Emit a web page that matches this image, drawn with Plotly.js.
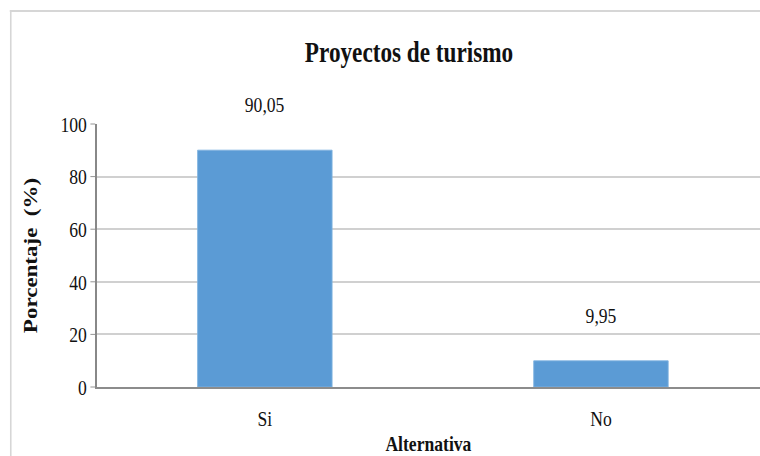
<!DOCTYPE html>
<html>
<head>
<meta charset="utf-8">
<script src="https://cdn.plot.ly/plotly-3.0.1.min.js"></script>
<style>
html,body{margin:0;padding:0;background:#fff;overflow:hidden;}
#frame{width:760px;height:456px;overflow:hidden;position:relative;}
#chart{width:950px;height:456px;transform:scaleX(0.8);transform-origin:0 0;}
</style>
</head>
<body>
<div id="frame"><div id="chart"></div></div>
<script>
// Data
const categories = ["Si", "No"];
const percentages = [90.05, 9.95];
const yTicks = [0, 20, 40, 60, 80, 100];

// The source figure is horizontally condensed; draw wider and squeeze by K.
const K = 1.25;
const W = 760 * K, H = 456;
const M = {l: 97 * K, r: 0, t: 124, b: 69};
const plotW = W - M.l - M.r, plotH = H - M.t - M.b;
const px2xp = px => (px * K - M.l) / plotW;
const px2yp = py => (H - M.b - py) / plotH;

const font = "Liberation Serif, Times New Roman, serif";
const labels = percentages.map(v => v.toFixed(2).replace(".", ","));

const trace = {
  type: "bar",
  x: categories,
  y: percentages,
  marker: {color: "#5b9bd5", line: {color: "#7fb2e0", width: 1}},
  width: 0.4,
  hoverinfo: "x+y"
};

const annotations = categories.map((c, i) => ({
  x: c, y: percentages[i], xref: "x", yref: "y",
  text: labels[i], showarrow: false,
  yanchor: "bottom", yshift: 31,
  font: {family: font, size: 22, color: "#111"}
}));

const layout = {
  width: W, height: H,
  margin: M,
  paper_bgcolor: "#fff", plot_bgcolor: "#fff",
  showlegend: false,
  title: {
    text: "<b>Proyectos de turismo</b>",
    font: {family: font, size: 29, color: "#111"},
    x: 409 / 760, xanchor: "center", xref: "container",
    y: 1 - 52 / H, yanchor: "middle", yref: "container"
  },
  xaxis: {
    type: "category",
    range: [-0.5, 1.5 - 9 / 336],
    showgrid: false,
    showline: true, linecolor: "#8c8c8c", linewidth: 2,
    ticks: "",
    ticklabelstandoff: 11,
    tickfont: {family: font, size: 22, color: "#111"},
    title: {text: "<b>Alternativa</b>", font: {family: font, size: 22, color: "#111"}, standoff: 6},
    zeroline: false, fixedrange: true
  },
  yaxis: {
    range: [0, 100],
    tickvals: yTicks,
    ticktext: yTicks.map(String),
    showgrid: true, gridcolor: "#d0d0d0", gridwidth: 2,
    showline: true, linecolor: "#888888", linewidth: 2,
    ticks: "outside", ticklen: 6, tickcolor: "#888888", tickwidth: 1,
    tickfont: {family: font, size: 22, color: "#111"},
    title: {text: "<b>Porcentaje  (%)</b>", font: {family: font, size: 23, color: "#111"}, standoff: 22},
    zeroline: false, fixedrange: true
  },
  annotations: annotations,
  shapes: [
    {type: "line", xref: "paper", yref: "paper",
     x0: px2xp(11), x1: px2xp(11), y0: px2yp(10), y1: px2yp(470),
     line: {color: "#d6d6d6", width: 2}},
    {type: "line", xref: "paper", yref: "paper",
     x0: px2xp(10), x1: px2xp(770), y0: px2yp(11), y1: px2yp(11),
     line: {color: "#d6d6d6", width: 2}}
  ]
};

Plotly.newPlot("chart", [trace], layout, {displayModeBar: false, staticPlot: true});
</script>
</body>
</html>
